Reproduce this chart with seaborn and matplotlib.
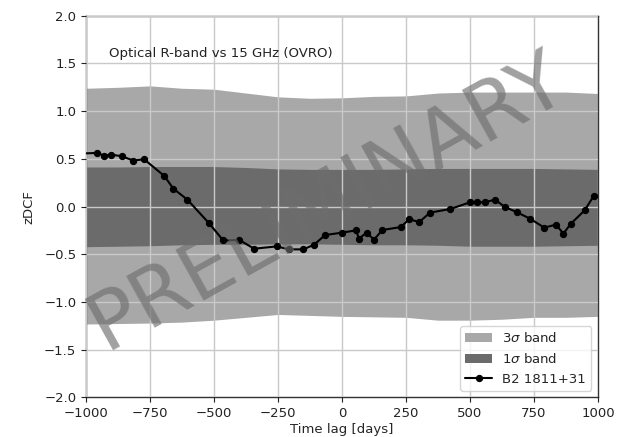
import matplotlib
matplotlib.use("Agg")
import matplotlib.pyplot as plt
import seaborn as sns
import pandas as pd

# z-transformed discrete correlation function, optical R-band vs 15 GHz
lag_days = [-1025, -958, -928, -904, -861, -815, -773, -694, -659, -604,
            -520, -464, -401, -343, -255, -206, -151, -109, -66, -1,
            55, 66, 96, 125, 158, 230, 262, 302, 344, 423,
            500, 529, 557, 598, 636, 682, 734, 790, 836, 865,
            893, 948, 984]
zdcf = [0.556, 0.562, 0.535, 0.546, 0.528, 0.483, 0.496, 0.321, 0.189, 0.073,
        -0.172, -0.354, -0.350, -0.441, -0.417, -0.448, -0.448, -0.399, -0.298, -0.273,
        -0.249, -0.336, -0.273, -0.346, -0.245, -0.214, -0.133, -0.161, -0.063, -0.025,
        0.045, 0.045, 0.045, 0.073, -0.004, -0.057, -0.126, -0.220, -0.189, -0.283,
        -0.182, -0.039, 0.115]

# significance bands from simulated light curves
band_lag = [-1000, -875, -750, -625, -500, -375, -250, -125, 0,
            125, 250, 375, 500, 625, 750, 875, 1000]
sig3_upper = [1.24, 1.25, 1.265, 1.24, 1.23, 1.19, 1.15, 1.135, 1.14,
              1.155, 1.16, 1.19, 1.20, 1.20, 1.20, 1.20, 1.185]
sig3_lower = [-1.23, -1.225, -1.22, -1.21, -1.19, -1.16, -1.13, -1.14, -1.15,
              -1.155, -1.16, -1.19, -1.19, -1.18, -1.16, -1.16, -1.15]
sig1_upper = [0.415, 0.415, 0.42, 0.42, 0.42, 0.41, 0.395, 0.39, 0.39,
              0.39, 0.395, 0.40, 0.40, 0.40, 0.40, 0.395, 0.39]
sig1_lower = [-0.42, -0.415, -0.41, -0.40, -0.395, -0.395, -0.39, -0.39, -0.395,
              -0.40, -0.40, -0.405, -0.415, -0.415, -0.415, -0.41, -0.405]

x_ticks = [-1000, -750, -500, -250, 0, 250, 500, 750, 1000]
y_ticks = [-2.0, -1.5, -1.0, -0.5, 0.0, 0.5, 1.0, 1.5, 2.0]

sns.set_style("white")
plt.rcParams["font.family"] = ["DejaVu Sans"]
plt.rcParams["font.size"] = 9.5

fig = plt.figure(figsize=(6.29, 4.37), dpi=100)
ax = fig.add_axes([0.1367, 0.0904, 0.814, 0.8736])

ax.fill_between(band_lag, sig3_lower, sig3_upper, color="#a8a8a8", lw=0,
                label=r"3$\sigma$ band", zorder=1)
ax.fill_between(band_lag, sig1_lower, sig1_upper, color="#6b6b6b", lw=0,
                label=r"1$\sigma$ band", zorder=2)

df = pd.DataFrame({"lag": lag_days, "zdcf": zdcf})
sns.lineplot(data=df, x="lag", y="zdcf", ax=ax, color="black", lw=1.5,
             marker="o", markersize=4.5, markeredgecolor="black",
             sort=False, estimator=None, label="B2 1811+31", zorder=4)

ax.set_xlim(-1000, 1000)
ax.set_ylim(-2.0, 2.0)
ax.set_xticks(x_ticks)
ax.set_yticks(y_ticks)
ax.set_xticklabels([f"{v:d}".replace("-", "\u2212") for v in x_ticks])
ax.set_yticklabels([f"{v:.1f}".replace("-", "\u2212") for v in y_ticks])
ax.tick_params(direction="out", length=3.5, width=0.8, colors="#222222",
               labelsize=9.5, bottom=True, left=True)
ax.set_axisbelow(False)
ax.grid(True, color="#c9c9c9", lw=1.0, zorder=3)
for sp in ax.spines.values():
    sp.set_color("#333333")
    sp.set_linewidth(1.0)

ax.set_xlabel("Time lag [days]", fontsize=9.5, labelpad=2)
ax.set_ylabel("zDCF", fontsize=9.5, labelpad=6)

ax.text(0.045, 0.9, "Optical R-band vs 15 GHz (OVRO)", transform=ax.transAxes,
        fontsize=9.5, color="#222222", ha="left", va="center", zorder=6)

leg = ax.legend(loc="lower right", fontsize=9.5, frameon=True, framealpha=0.8,
                borderpad=0.4, handlelength=2.0)
leg.set_zorder(7)

fig.text(0.52, 0.535, "PRELIMINARY", fontsize=58, color="#6e6e6e", alpha=0.65,
         rotation=29, ha="center", va="center", zorder=10)

fig.savefig("out.png", dpi=100)
